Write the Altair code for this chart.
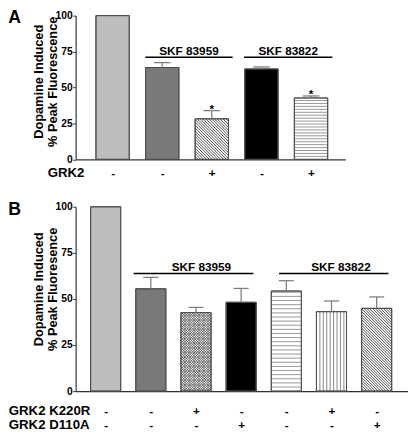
import json
import altair as alt
import pandas as pd

FONT = "Liberation Sans"

# ---------------- data ----------------
# Panel A
A_GRK2 = ["-", "-", "+", "-", "+"]
A_VALUES = [100.0, 63.9, 28.2, 62.9, 42.7]
A_SEM = [0.0, 3.4, 5.7, 1.4, 1.4]
A_SIG = ["", "", "*", "", "*"]
A_GROUPS = ["SKF 83959", "SKF 83822"]
A_GROUP_FROM = [1.66, 3.65]
A_GROUP_TO = [3.42, 5.43]
A_GROUP_TEXT_AT = [2.54, 4.54]
A_GROUP_LEVEL = [71.0, 71.0]

# Panel B
B_K220R = ["-", "-", "+", "-", "-", "+", "-"]
B_D110A = ["-", "-", "-", "+", "-", "-", "+"]
B_VALUES = [100.0, 55.5, 42.6, 48.2, 54.3, 43.1, 44.9]
B_SEM = [0.0, 6.2, 2.8, 7.5, 5.6, 5.8, 6.2]
B_SIG = ["", "", "", "", "", "", ""]
B_GROUPS = ["SKF 83959", "SKF 83822"]
B_GROUP_FROM = [1.62, 4.84]
B_GROUP_TO = [4.27, 7.26]
B_GROUP_TEXT_AT = [3.12, 6.21]
B_GROUP_LEVEL = [63.8, 63.8]

# ---------------- styles ----------------
A_STYLE = ["light", "dark", "diag", "black", "hlines"]
B_STYLE = ["light", "dark", "cross", "black", "hlines", "vlines", "diag"]
FILL = {"light": "#bdbdbd", "dark": "#797979", "black": "#000000",
        "diag": "#ffffff", "hlines": "#ffffff", "vlines": "#ffffff", "cross": "#ffffff"}
HATCH_COLOR = {"diag": "#3a3a3a", "hlines": "#8c8c8c", "vlines": "#7a7a7a", "cross": "#5a5a5a"}


def hatch_lines(style, p, v, half, ppx, ppy, gap):
    left, right = p - half, p + half
    W = (right - left) * ppx
    H = v * ppy
    out = []
    if style == "hlines":
        k = 1
        while k * gap < H - 0.5:
            y = k * gap / ppy
            out.append((left, right, y, y))
            k += 1
    elif style == "vlines":
        k = 1
        while k * gap < W - 0.5:
            x = left + k * gap / ppx
            out.append((x, x, 0.0, v))
            k += 1
    elif style in ("diag", "cross"):
        c = -H + gap
        while c < W:
            u0, u1 = max(0.0, c), min(W, H + c)
            if u1 > u0:
                out.append((left + u0 / ppx, left + u1 / ppx,
                            v - (u0 - c) / ppy, v - (u1 - c) / ppy))
            c += gap
        if style == "cross":
            c = gap
            while c < W + H:
                u0, u1 = max(0.0, c - H), min(W, c)
                if u1 > u0:
                    out.append((left + u0 / ppx, left + u1 / ppx,
                                v - (c - u0) / ppy, v - (c - u1) / ppy))
                c += gap
    return out


def build_panel(letter, letter_y, letter_baseline, values, sem, sig, styles, label_rows,
                groups, g_from, g_to, g_text, g_level,
                width, height, xdom, half, ytitle, ytitle_y,
                xtitle, xtitle_x, xtitle_y, label_pad, gaps):
    n = len(values)
    pos = list(range(1, n + 1))
    ppx = width / (xdom[1] - xdom[0])
    ppy = height / 100.0

    df = pd.DataFrame({"pos": pos, "value": values, "sem": sem, "sig": sig, "style": styles})
    df["x0"] = df["pos"] - half
    df["x1"] = df["pos"] + half
    df["fill"] = df["style"].map(FILL)
    df["up"] = df["value"] + df["sem"]
    df["c0"] = df["pos"] - half / 2
    df["c1"] = df["pos"] + half / 2
    err = df[df["sem"] > 0]
    sig_df = df[df["sig"] != ""]

    rows = []
    for p, v, s in zip(pos, values, styles):
        if s in HATCH_COLOR:
            for seg in hatch_lines(s, p, v, half, ppx, ppy, gaps[s]):
                rows.append({"hx0": seg[0], "hx1": seg[1], "hy0": seg[2], "hy1": seg[3],
                             "hc": HATCH_COLOR[s]})
    hatch = pd.DataFrame(rows)

    gdf = pd.DataFrame({"g": groups, "g0": g_from, "g1": g_to, "gt": g_text, "gl": g_level})

    if len(label_rows) == 1:
        labels = label_rows[0]
    else:
        labels = [list(t) for t in zip(*label_rows)]
    expr = json.dumps(labels) + "[datum.value - 1]"

    xs = alt.Scale(domain=list(xdom), nice=False, zero=False)
    ys = alt.Scale(domain=[0, 100], nice=False)

    xaxis = alt.Axis(values=pos, labelExpr=expr, ticks=False, tickSize=0, grid=False,
                     domainColor="#333333", domainWidth=1.2, labelColor="black",
                     labelFont=FONT, labelFontSize=12, labelFontWeight="bold",
                     labelBaseline="middle", labelPadding=label_pad, labelLineHeight=14.3,
                     labelFlush=False, labelOverlap=False, labelBound=False,
                     title=xtitle, titleX=xtitle_x, titleY=xtitle_y, titleAngle=0,
                     titleAlign="left", titleBaseline="middle", titleFont=FONT,
                     titleFontSize=13.5, titleFontWeight="bold", titleLineHeight=14.3,
                     titleColor="black")
    yaxis = alt.Axis(values=[0, 25, 50, 75, 100], grid=False, tickSize=3,
                     tickColor="#333333", domainColor="#333333", domainWidth=1.2,
                     labelColor="black", labelFont=FONT, labelFontSize=10.5,
                     labelFontWeight="bold", labelPadding=0.5,
                     title=ytitle, titleFont=FONT, titleFontSize=13,
                     titleFontWeight="bold", titleLineHeight=13.5, titleColor="black",
                     titleX=-37.5, titleY=ytitle_y, titleAngle=-90,
                     titleAlign="center", titleBaseline="middle")

    def X(field):
        return alt.X(field, scale=xs, axis=xaxis)

    def Y(field):
        return alt.Y(field, scale=ys, axis=yaxis)

    bars = alt.Chart(df).mark_bar(stroke="#4d4d4d", strokeWidth=1).encode(
        x=X("x0:Q"), x2="x1:Q",
        y=Y("value:Q"), y2=alt.datum(0),
        fill=alt.Fill("fill:N", scale=None),
    )
    hatch_layer = alt.Chart(hatch).mark_rule(strokeWidth=0.9).encode(
        x=X("hx0:Q"), x2="hx1:Q",
        y=Y("hy0:Q"), y2="hy1:Q",
        color=alt.Color("hc:N", scale=None),
    )
    outline = alt.Chart(df).mark_bar(fillOpacity=0, stroke="#4d4d4d", strokeWidth=1).encode(
        x=X("x0:Q"), x2="x1:Q",
        y=Y("value:Q"), y2=alt.datum(0),
    )
    err_line = alt.Chart(err).mark_rule(color="#7f7f7f", strokeWidth=1.3).encode(
        x=X("pos:Q"),
        y=Y("value:Q"), y2="up:Q",
    )
    err_cap = alt.Chart(err).mark_rule(color="#7f7f7f", strokeWidth=1.3).encode(
        x=X("c0:Q"), x2="c1:Q",
        y=Y("up:Q"),
    )
    g_rule = alt.Chart(gdf).mark_rule(color="black", strokeWidth=1.4).encode(
        x=X("g0:Q"), x2="g1:Q",
        y=Y("gl:Q"),
    )
    g_text_layer = alt.Chart(gdf).mark_text(font=FONT, fontSize=12, fontWeight="bold",
                                            baseline="alphabetic", dy=-2.5, color="black").encode(
        x=X("gt:Q"),
        y=Y("gl:Q"),
        text="g:N",
    )
    letter_layer = alt.Chart(pd.DataFrame({"t": [letter]})).mark_text(
        font=FONT, fontSize=18, fontWeight="bold", align="left",
        baseline=letter_baseline, color="black").encode(
        text="t:N", x=alt.value(-68.7), y=alt.value(letter_y))

    layers = [bars, hatch_layer, outline, err_line, err_cap, g_rule, g_text_layer, letter_layer]
    if len(sig_df):
        stars = alt.Chart(sig_df).mark_text(font=FONT, fontSize=12, fontWeight="bold",
                                            baseline="alphabetic", dy=2.5, color="black").encode(
            x=X("pos:Q"),
            y=Y("up:Q"),
            text="sig:N",
        )
        layers.append(stars)

    return alt.layer(*layers).properties(width=width, height=height)


panel_a = build_panel(
    "A", -6.7, "top", A_VALUES, A_SEM, A_SIG, A_STYLE, [A_GRK2],
    A_GROUPS, A_GROUP_FROM, A_GROUP_TO, A_GROUP_TEXT_AT, A_GROUP_LEVEL,
    275, 146.6, (0.255, 5.69), 0.336,
    ["Dopamine Induced", "% Peak Fluorescence"], 67.0,
    "GRK2", -29, 14, 13.5,
    {"diag": 2.9, "hlines": 3.0},
)

panel_b = build_panel(
    "B", 3.7, "middle", B_VALUES, B_SEM, B_SIG, B_STYLE, [B_K220R, B_D110A],
    B_GROUPS, B_GROUP_FROM, B_GROUP_TO, B_GROUP_TEXT_AT, B_GROUP_LEVEL,
    338.5, 188, (0.336, 7.683), 0.333,
    ["Dopamine Induced", "% Peak Fluoresence"], 83.7,
    ["GRK2 K220R", "GRK2 D110A"], -68.7, 19.5, 19.5,
    {"diag": 2.8, "hlines": 4.2, "vlines": 3.5, "cross": 2.6},
)

chart = alt.vconcat(panel_a, panel_b, spacing=21).properties(
    padding={"top": -3.5, "left": 0, "right": 0, "bottom": 0}, background="white"
).configure_view(stroke=None)

chart.save("out.html", embed_options={"renderer": "svg", "actions": False})
